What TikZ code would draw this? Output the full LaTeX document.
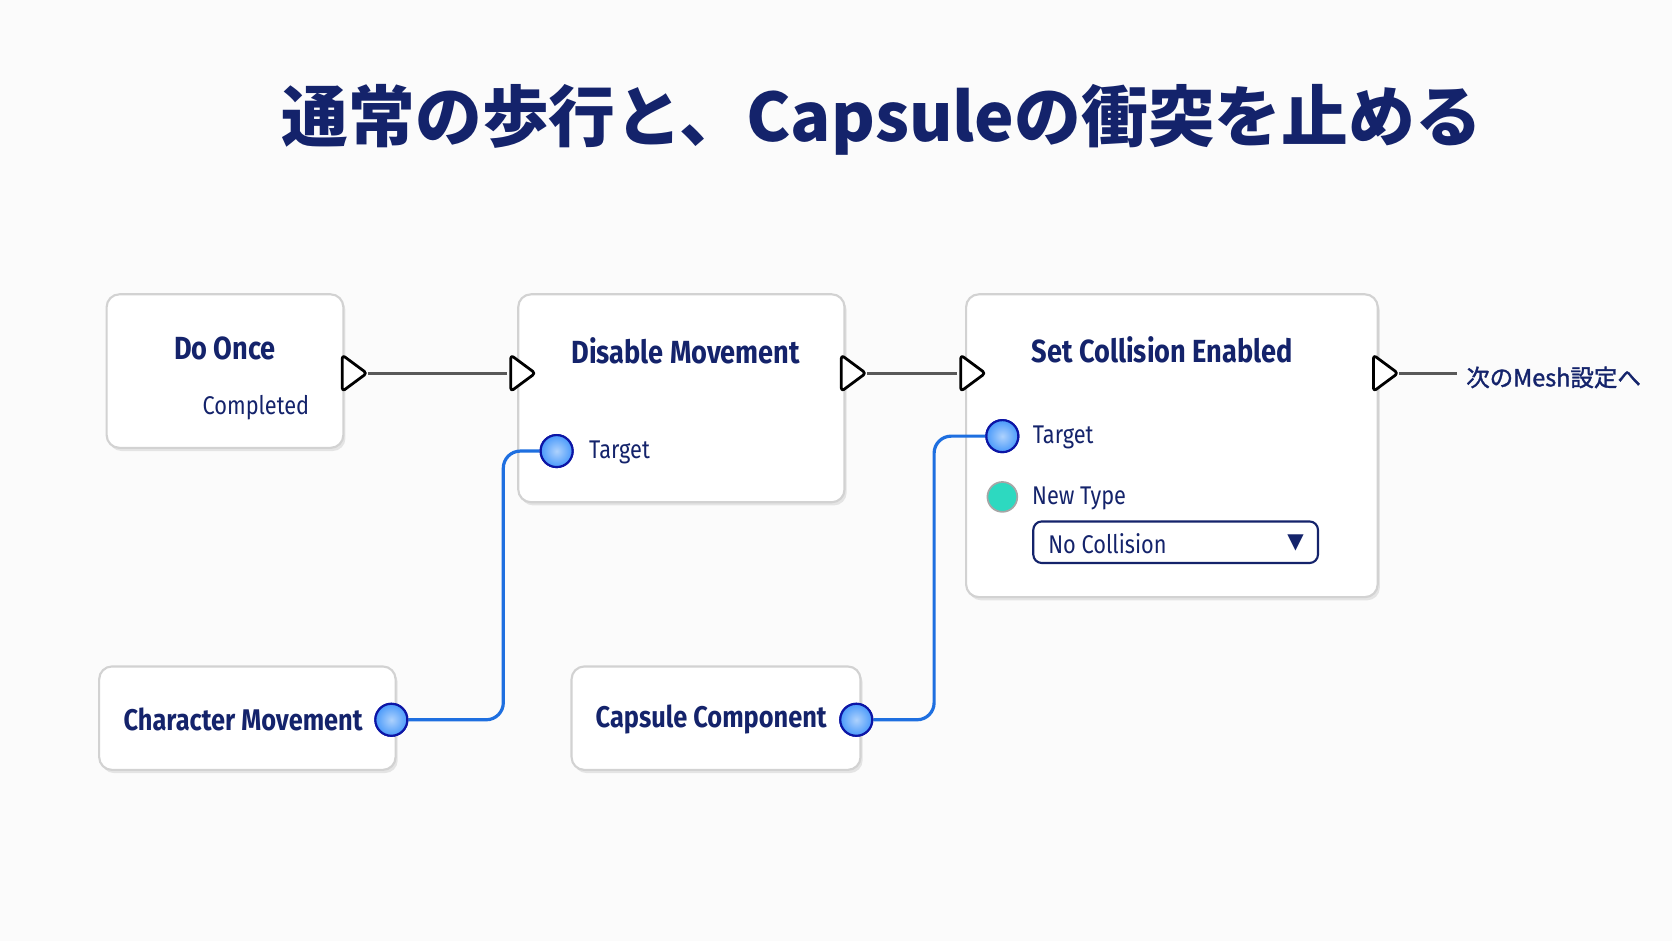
\documentclass[tikz,border=0pt]{standalone}
\usepackage{fontspec}
\setmainfont{Fira Sans}
\newfontfamily\cjk{Noto Sans CJK JP}
\newfontfamily\dv{DejaVu Sans}
\usetikzlibrary{shadows}
\definecolor{navy}{HTML}{14236B}
\definecolor{wire}{HTML}{1E6FE0}
\definecolor{pinb}{HTML}{4A9AFA}
\definecolor{pint}{HTML}{2DD9C0}
\tikzset{
 nodebox/.style={draw=gray!35,line width=1pt,fill=white,rounded corners=6pt,drop shadow={shadow xshift=1pt,shadow yshift=-1.5pt,opacity=0.18}},
 ttl/.style={font=\fontsize{15}{18}\selectfont\addfontfeatures{FakeStretch=0.85}\bfseries,text=navy},
 lbl/.style={font=\fontsize{12}{14}\selectfont\addfontfeatures{FakeStretch=0.85},text=navy},
 pin/.style={circle,draw=navy!60!blue,line width=1pt,minimum size=15pt,inner sep=0pt,inner color=pinb!45!white,outer color=pinb},
 tpin/.style={circle,draw=gray!70,line width=0.8pt,minimum size=14pt,inner sep=0pt,fill=pint},
 execline/.style={draw=gray!70!black,line width=1.3pt},
 wireline/.style={draw=wire,line width=1.5pt,rounded corners=8pt},
 execpin/.style={draw=black,line width=1.3pt,fill=white,line join=round,rounded corners=1.5pt}
}
\newcommand{\execpin}[2]{\draw[execpin] (#1-9,#2-17) -- (#1+14,#2) -- (#1-9,#2+17) -- cycle;}
\begin{document}
\begin{tikzpicture}[x=0.5pt,y=-0.5pt]
\fill[white!97!gray] (0,0) rectangle (1568,882);
\useasboundingbox (0,0) rectangle (1568,882);
\node (title) at (827,112) {\cjk\bfseries\fontsize{31.3}{34}\selectfont\color{navy}通常の歩行と、Capsuleの衝突を止める};
% boxes
\draw[nodebox] (100,276) rectangle (322,420);
\draw[nodebox] (486,276) rectangle (792,471);
\draw[nodebox] (906,276) rectangle (1292,560);
\draw[nodebox] (93,625) rectangle (371,722);
\draw[nodebox] (536,625) rectangle (807,722);
\node[ttl] (t1) at (211,327) {Do Once};
\node[lbl] (c1) at (240,382) {Completed};
\node[ttl] (t2) at (643,329) {Disable Movement};
\node[lbl] (tg2) at (581,424) {Target};
\node[ttl] (t3) at (1090,328) {Set Collision Enabled};
\node[lbl] (tg3) at (997,410) {Target};
\node[lbl] (nt) at (1012,467) {New Type};
\draw[draw=navy,line width=1pt,fill=white,rounded corners=4pt] (969,489) rectangle (1236,528);
\node[lbl,anchor=west] (nc) at (976,510) {No Collision};
\node[text=navy] (arr) at (1215,509) {\dv\fontsize{10}{10}\selectfont ▼};
\node[ttl,font=\fontsize{14}{18}\selectfont\addfontfeatures{FakeStretch=0.85}\bfseries] (cm) at (228,675) {Character Movement};
\node[ttl,font=\fontsize{14}{18}\selectfont\addfontfeatures{FakeStretch=0.85}\bfseries] (cc) at (667,675) {Capsule Component};
\node[text=navy,anchor=west] (next) at (1368,354) {\cjk\fontsize{11}{13}\selectfont\addfontfeatures{FakeBold=1.5}次のMesh設定へ};
% exec lines
\coordinate (e1) at (345,350); \coordinate (e2) at (475,350);
\coordinate (e3) at (813,350); \coordinate (e4) at (897,350);
\coordinate (e5) at (1312,350); \coordinate (e6) at (1366,350);
\draw[execline] (e1) -- (e2);
\draw[execline] (e3) -- (e4);
\draw[execline] (e5) -- (e6);
\execpin{330}{350}\execpin{488}{350}\execpin{798}{350}\execpin{910}{350}\execpin{1297}{350}
% wires
\node[pin] (p1) at (367,675) {};
\node[pin] (p2) at (522,423) {};
\node[pin] (p3) at (803,675) {};
\node[pin] (p4) at (940,409) {};
\node[tpin] (p5) at (940,466) {};
\draw[wireline] (p1.east) -- (472,675) -- (472,423) -- (p2.west);
\draw[wireline] (p3.east) -- (876,675) -- (876,409) -- (p4.west);
\node[pin] at (p1) {};\node[pin] at (p2) {};\node[pin] at (p3) {};\node[pin] at (p4) {};
\end{tikzpicture}
\end{document}
